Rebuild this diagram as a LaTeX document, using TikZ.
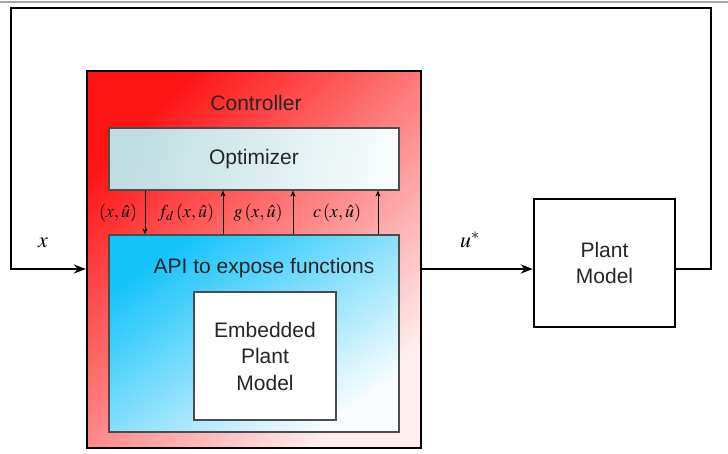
\documentclass[tikz,border=0pt]{standalone}
\usepackage{mathptmx}
\usepackage{fontspec}
\setmainfont{Liberation Sans}
\usepackage{tikz}
\usetikzlibrary{arrows.meta}
\definecolor{ctrltop}{RGB}{255,20,20}
\definecolor{ctrlbot}{RGB}{255,238,238}
\definecolor{optleft}{RGB}{190,222,226}
\definecolor{optright}{RGB}{246,251,251}
\definecolor{apitop}{RGB}{20,195,250}
\definecolor{apibot}{RGB}{250,253,255}

\begin{document}
\begin{tikzpicture}[x=1pt,y=-1pt,>=Stealth,
    txt/.style={font=\fontsize{21}{26.5}\selectfont,text=black!85,align=center},
    lbl/.style={font=\fontsize{18}{20}\selectfont,inner sep=1pt},
    var/.style={font=\fontsize{22}{24}\selectfont},
    blk/.style={draw=black,line width=2.4pt,inner sep=0pt},
    sub/.style={draw=black!70,line width=1.2pt,inner sep=0pt},
    sig/.style={line width=2.4pt,-{Stealth[length=12pt,width=9pt]}},
    link/.style={line width=0.8pt,-{Stealth[length=6pt,width=5pt]}}]
  \useasboundingbox (0,0) rectangle (728,454);
  \coordinate (row) at (0,269);
  % blocks
  \node[blk,minimum width=334pt,minimum height=377pt,
        top color=ctrltop,bottom color=ctrlbot,shading angle=45] (ctrl) at (254,259.5) {};
  \node[sub,minimum width=290pt,minimum height=62pt,
        left color=optleft,right color=optright,shading angle=75] (opt) at (254,159) {};
  \node[sub,minimum width=290pt,minimum height=197pt,
        top color=apitop,bottom color=apibot,shading angle=35] (api) at (254,333.5) {};
  \node[sub,fill=white,minimum width=142pt,minimum height=128pt,txt] (emb) at (265,356)
        {Embedded\\Plant\\Model};
  \node[blk,fill=white,minimum width=141pt,minimum height=128pt,txt] (plant) at (604.5,263)
        {Plant\\Model};
  % texts
  \node[txt] (ctrltxt) at (256,103) {Controller};
  \node[txt] (opttxt) at (opt.center) {Optimizer};
  \node[txt] (apitxt) at (264,268) {API to expose functions};
  % signals
  \draw[gray!70,line width=2pt] (0,2) -- (728,2);
  \draw[sig] (ctrl.east |- row) -- (plant.west |- row);
  \draw[sig] (plant.east |- row) -- (711,269) -- (711,8) -- (11,8) -- (11,269) -- (ctrl.west |- row);
  \node[var] (xlbl) at (43,243) {$x$};
  \node[var] (ulbl) at (470,240) {$u^{*}$};
  % functions
  \draw[link] (opt.south -| 145,0) -- (api.north -| 145,0);
  \foreach \xa in {223,293,378}
    \draw[link] (api.north -| \xa,0) -- (opt.south -| \xa,0);
  \node[lbl] (arg) at (118,213) {$\left(x,\hat{u}\right)$};
  \node[lbl] (fd) at (186,213) {$f_d\left(x,\hat{u}\right)$};
  \node[lbl] (gf) at (258,213) {$g\left(x,\hat{u}\right)$};
  \node[lbl] (cf) at (337,213) {$c\left(x,\hat{u}\right)$};
\end{tikzpicture}
\end{document}
